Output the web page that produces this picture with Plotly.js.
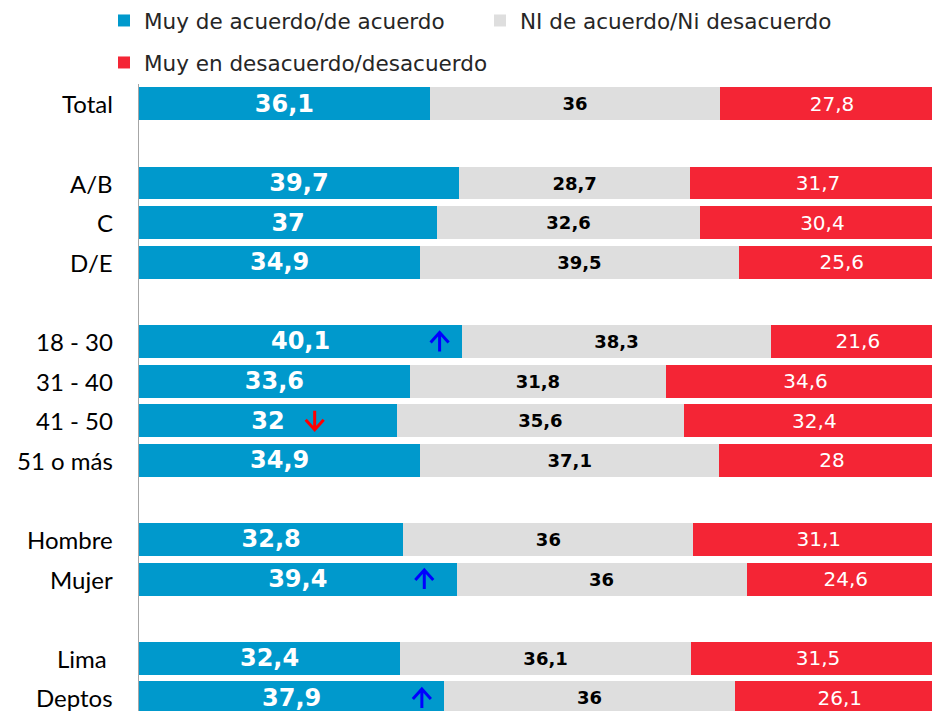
<!DOCTYPE html>
<html><head><meta charset="utf-8">
<script src="https://cdn.plot.ly/plotly-3.0.1.min.js"></script>
<style>html,body{margin:0;padding:0;background:#fff}</style>
</head><body><div id="chart" style="width:932px;height:711px"></div>
<script>
const categories = ["Total","","A/B","C","D/E","","18 - 30","31 - 40","41 - 50","51 o más","","Hombre","Mujer","","Lima ","Deptos"];
const acuerdo    = [36.1,null,39.7,37,34.9,null,40.1,33.6,32,34.9,null,32.8,39.4,null,32.4,37.9];
const neutral    = [36,null,28.7,32.6,39.5,null,38.3,31.8,35.6,37.1,null,36,36,null,36.1,36];
const desacuerdo = [27.8,null,31.7,30.4,25.6,null,21.6,34.6,32.4,28,null,31.1,24.6,null,31.5,26.1];
const seriesNames = ["Muy de acuerdo/de acuerdo","NI de acuerdo/Ni desacuerdo","Muy en desacuerdo/desacuerdo"];
const arrowRows = [6, 8, 12, 15];
const arrowX    = [37.3, 21.8, 35.4, 35.1];
const arrowDir  = ["up","down","up","up"];

const yIdx = categories.map((c,i)=>i);
const tickvals = yIdx.filter(i=>categories[i]!=="");
const fmt = v => v==null ? "" : String(v).replace(".", ",");

const dataFont = "DejaVu Sans, Noto Sans, sans-serif";
function tr(vals, name, color, font, legend){
  return {
    type:"bar", orientation:"h", x: vals, y: yIdx, name: name,
    marker:{color: color, line:{width:0}},
    text: vals.map(fmt), textposition:"inside", insidetextanchor:"middle",
    textangle:0, constraintext:"none", textfont: font,
    hoverinfo:"none", legend: legend, cliponaxis:true
  };
}
const data = [
  tr(acuerdo, seriesNames[0], "#0099CC", {family:dataFont, size:24, color:"#ffffff", weight:"bold"}, "legend"),
  tr(neutral, seriesNames[1], "#DEDEDE", {family:dataFont, size:18, color:"#000000", weight:"bold"}, "legend"),
  tr(desacuerdo, seriesNames[2], "#F42535", {family:dataFont, size:20, color:"#ffffff"}, "legend2")
];

const shapes = arrowRows.map((r,k)=>{
  const up = arrowDir[k]==="up";
  const s = up ? 1 : -1;
  return {
    type:"path", xref:"x", yref:"y", xsizemode:"pixel", ysizemode:"pixel",
    xanchor: arrowX[k], yanchor: r,
    path: `M-9,${-1*s} L0,${9*s} L9,${-1*s} M0,${9*s} L0,${-10*s}`,
    line:{color: up ? "#0000FF" : "#FF0000", width:3}
  };
});

const annotations = tickvals.map(i=>({
  xref:"paper", yref:"y", x:0, y:i, xanchor:"right", yanchor:"middle",
  xshift:-24, showarrow:false, text: categories[i].replace(/ $/, "\u00a0"),
  font:{family:"Lato, Noto Sans, sans-serif", size:24, color:"#000000"}
}));

const legendFont = {family:dataFont, size:21.5, color:"#262626"};
const layout = {
  width:932, height:711,
  margin:{l:139, r:0, t:84, b:0, pad:0},
  paper_bgcolor:"#ffffff", plot_bgcolor:"#ffffff",
  barmode:"stack", bargap:0.17,
  showlegend:true,
  legend:{orientation:"h", xref:"container", yref:"container", x:104/932, y:1, yanchor:"top", xanchor:"left",
          font:legendFont, entrywidth:331, itemclick:false, bgcolor:"rgba(0,0,0,0)", traceorder:"normal"},
  legend2:{orientation:"h", xref:"container", yref:"container", x:104/932, y:1-42/711, yanchor:"top", xanchor:"left",
          font:legendFont, itemclick:false, bgcolor:"rgba(0,0,0,0)"},
  xaxis:{range:[0,98.4], showgrid:false, zeroline:false, showticklabels:false, ticks:"", showline:false, fixedrange:true},
  yaxis:{range:[15.33,-0.5], showticklabels:false, showgrid:false, zeroline:false,
         showline:true, linecolor:"#A6A6A6", linewidth:1, ticks:"", fixedrange:true},
  shapes: shapes,
  annotations: annotations
};
Plotly.newPlot("chart", data, layout, {displayModeBar:false, staticPlot:true});
</script></body></html>
